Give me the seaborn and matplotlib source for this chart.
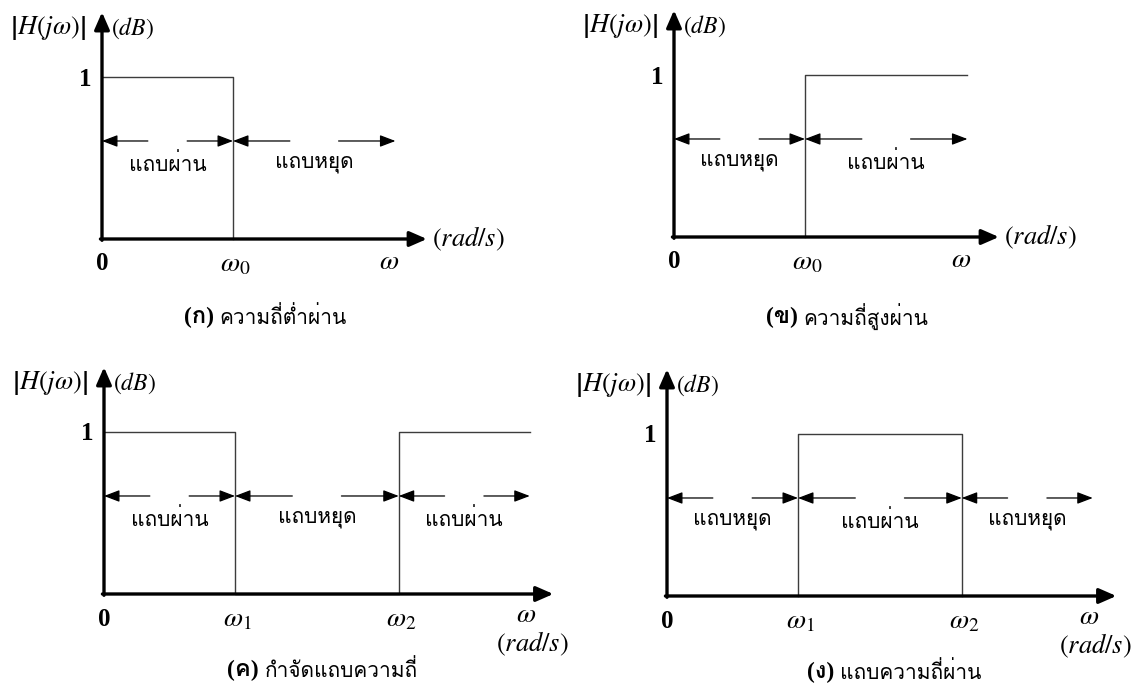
import matplotlib
matplotlib.use("Agg")
import matplotlib.pyplot as plt
from matplotlib import font_manager
from matplotlib.ft2font import FT2Font
import seaborn as sns

# ---- data: ideal filter magnitude responses (frequency normalised to first edge = 1)
lp_freq = [0, 1, 1]
lp_gain = [1, 1, 0]
lp_edges = [0, 1, 2.24]
lp_bands = ["แถบผ่าน", "แถบหยุด"]
lp_ticks = [0, 1]
lp_ticklabels = ["0", r"$\omega_0$"]

hp_freq = [1, 1, 2.24]
hp_gain = [0, 1, 1]
hp_edges = [0, 1, 2.24]
hp_bands = ["แถบหยุด", "แถบผ่าน"]
hp_ticks = [0, 1]
hp_ticklabels = ["0", r"$\omega_0$"]

bs_freq = [0, 1, 1, 2.25, 2.25, 3.25]
bs_gain = [1, 1, 0, 0, 1, 1]
bs_edges = [0, 1, 2.25, 3.25]
bs_bands = ["แถบผ่าน", "แถบหยุด", "แถบผ่าน"]
bs_ticks = [0, 1, 2.25]
bs_ticklabels = ["0", r"$\omega_1$", r"$\omega_2$"]

bp_freq = [1, 1, 2.25, 2.25]
bp_gain = [0, 1, 1, 0]
bp_edges = [0, 1, 2.25, 3.25]
bp_bands = ["แถบหยุด", "แถบผ่าน", "แถบหยุด"]
bp_ticks = [0, 1, 2.25]
bp_ticklabels = ["0", r"$\omega_1$", r"$\omega_2$"]

caption_keys = ["(ก)", "(ข)", "(ค)", "(ง)"]
caption_names = ["ความถี่ต่ำผ่าน", "ความถี่สูงผ่าน", "กำจัดแถบความถี่", "แถบความถี่ผ่าน"]


def find_thai_font():
    for f in font_manager.fontManager.ttflist:
        try:
            if 0x0E01 in FT2Font(f.fname).get_charmap():
                return f.name
        except Exception:
            continue
    return "DejaVu Sans"


THAI = find_thai_font()
plt.rcParams["font.family"] = ["Liberation Serif", THAI]
plt.rcParams["mathtext.fontset"] = "stix"

W, H = 1140, 687
SX, SY = 131, 162  # pixels per unit
fig = plt.figure(figsize=(11.4, 6.87), dpi=100)


def draw_panel(quad, origin, freq, gain, edges, bands, ticks, ticklabels,
               tip, split_rad, cap_x, cap_y, key, name):
    qx0, qy0, qx1, qy1 = quad
    ox, oy = origin
    ax = fig.add_axes([qx0 / W, 1 - qy1 / H, (qx1 - qx0) / W, (qy1 - qy0) / H])
    ax.set_xlim((qx0 - ox) / SX, (qx1 - ox) / SX)
    ax.set_ylim((oy - qy1) / SY, (oy - qy0) / SY)
    ax.axis("off")

    # response
    sns.lineplot(x=freq, y=gain, ax=ax, sort=False, estimator=None,
                 color="#3c3c3c", lw=1.0)

    # axes with arrows
    axis_style = dict(arrowstyle="-|>,head_length=0.8,head_width=0.35",
                      mutation_scale=13, lw=2.4, color="black",
                      shrinkA=0, shrinkB=0)
    ax.annotate("", xy=(tip, 0), xytext=(-0.012, 0), arrowprops=axis_style,
                annotation_clip=False)
    ax.annotate("", xy=(0, 1.40), xytext=(0, -0.008), arrowprops=axis_style,
                annotation_clip=False)

    # band arrows and labels
    y_arr = 0.605
    band_style = dict(arrowstyle="-|>,head_length=0.63,head_width=0.24",
                      mutation_scale=15, lw=0.9, color="black",
                      shrinkA=0, shrinkB=0)
    for a, b, lab in zip(edges[:-1], edges[1:], bands):
        seg = 0.35 * (b - a)
        ax.annotate("", xy=(a, y_arr), xytext=(a + seg, y_arr), arrowprops=band_style)
        ax.annotate("", xy=(b, y_arr), xytext=(b - seg, y_arr), arrowprops=band_style)
        ax.annotate(lab, xy=((a + b) / 2, y_arr), xytext=(0, -23),
                    textcoords="offset pixels", ha="center", va="center",
                    fontsize=15, family=THAI)

    # tick labels
    for t, lab in zip(ticks, ticklabels):
        if lab == "0":
            ax.annotate(lab, xy=(t, 0), xytext=(0, -25), textcoords="offset pixels",
                        ha="center", va="center", fontsize=18, fontweight="bold")
        else:
            ax.annotate(lab, xy=(t, 0), xytext=(2, -32), textcoords="offset pixels",
                        ha="center", va="baseline", fontsize=20)
    ax.annotate("1", xy=(0, 1), xytext=(-17, -2), textcoords="offset pixels",
                ha="center", va="center", fontsize=18, fontweight="bold")

    # y-axis label
    ax.annotate(r"$\left|H\left(j\omega\right)\right|$", xy=(0, 1.30), xytext=(-16, 0),
                textcoords="offset pixels", ha="right", va="center", fontsize=19)
    ax.annotate(r"$(dB)$", xy=(0, 1.30), xytext=(9, 0),
                textcoords="offset pixels", ha="left", va="center", fontsize=17)

    # x-axis label
    end = edges[-1]
    if split_rad:
        ax.annotate(r"$\omega$", xy=(end - 0.03, 0), xytext=(0, -28),
                    textcoords="offset pixels", ha="center", va="baseline", fontsize=20)
        ax.annotate(r"$\left(rad/s\right)$", xy=(end + 0.02, 0), xytext=(0, -50),
                    textcoords="offset pixels", ha="center", va="center", fontsize=19)
    else:
        ax.annotate(r"$\omega$", xy=(end - 0.05, 0), xytext=(0, -30),
                    textcoords="offset pixels", ha="center", va="baseline", fontsize=20)
        ax.annotate(r"$\left(rad/s\right)$", xy=(tip, 0), xytext=(5, 0),
                    textcoords="offset pixels", ha="left", va="center", fontsize=19)

    # caption
    fig.text(cap_x / W - 0.002, 1 - cap_y / H, key, ha="right", va="center",
             fontsize=17, fontweight="bold", family=["Liberation Serif", THAI])
    fig.text(cap_x / W + 0.003, 1 - cap_y / H, name, ha="left", va="center",
             fontsize=15, family=THAI)


draw_panel((0, 0, 570, 340), (102, 239), lp_freq, lp_gain, lp_edges, lp_bands,
           lp_ticks, lp_ticklabels, 2.48, False, 216, 317, caption_keys[0], caption_names[0])
draw_panel((570, 0, 1140, 340), (674, 237), hp_freq, hp_gain, hp_edges, hp_bands,
           hp_ticks, hp_ticklabels, 2.48, False, 800, 317, caption_keys[1], caption_names[1])
draw_panel((0, 340, 570, 687), (104, 594), bs_freq, bs_gain, bs_edges, bs_bands,
           bs_ticks, bs_ticklabels, 3.43, True, 261, 670, caption_keys[2], caption_names[2])
draw_panel((570, 340, 1140, 687), (667, 596), bp_freq, bp_gain, bp_edges, bp_bands,
           bp_ticks, bp_ticklabels, 3.43, True, 837, 672, caption_keys[3], caption_names[3])

fig.savefig("out.png", dpi=100, facecolor="white")
